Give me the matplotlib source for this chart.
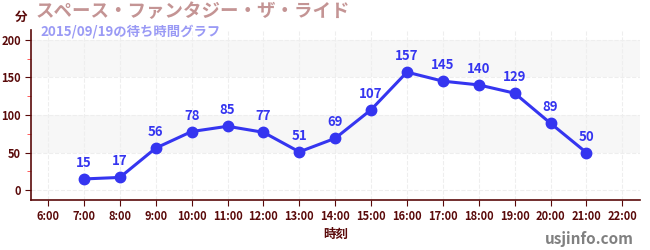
import matplotlib.pyplot as plt

plt.rcParams['font.family'] = ['Noto Sans CJK JP', 'DejaVu Sans']

hours = [7, 8, 9, 10, 11, 12, 13, 14, 15, 16, 17, 18, 19, 20, 21]
waits = [15, 17, 56, 78, 85, 77, 51, 69, 107, 157, 145, 140, 129, 89, 50]
tick_hours = list(range(6, 23))
tick_labels = [f"{h}:00" for h in tick_hours]

dark = '#5a0a0a'
blue = '#3535f0'

fig = plt.figure(figsize=(6.5, 2.5), dpi=100)
ax = fig.add_axes([0.048, 0.2, 0.937, 0.68])

# alternating background bands
for lo, hi in [(50, 100), (150, 200)]:
    ax.axhspan(lo, hi, color='#f7f7f7', zorder=0, lw=0)

ax.plot(hours, waits, color=blue, lw=2.2, marker='o', markersize=7.5, zorder=3)
for h, w in zip(hours, waits):
    ax.annotate(str(w), (h, w), xytext=(0, 6.5), textcoords='offset points',
                ha='center', va='bottom', color=blue, fontsize=9.5, fontweight='bold')

ax.set_xlim(5.53, 22.5)
ax.set_ylim(-13, 213)
ax.set_xticks(tick_hours)
ax.set_xticklabels(tick_labels)
ax.set_yticks([0, 50, 100, 150, 200])
ax.set_yticks([25, 75, 125, 175], minor=True)
ax.tick_params(axis='both', colors=dark, labelsize=8, length=4)
ax.tick_params(axis='y', which='minor', colors='#ff4040', length=3)
for lbl in ax.get_xticklabels() + ax.get_yticklabels():
    lbl.set_fontweight('bold')
    lbl.set_color(dark)

ax.grid(True, axis='x', ls='--', color='#eeeeee', lw=0.8)
ax.grid(True, axis='y', ls='--', color='#eeeeee', lw=0.8)
ax.set_axisbelow(True)

for s in ['top', 'right']:
    ax.spines[s].set_visible(False)
for s in ['left', 'bottom']:
    ax.spines[s].set_color(dark)
    ax.spines[s].set_linewidth(1.2)

ax.set_xlabel('時刻', color=dark, fontsize=9, fontweight='bold', labelpad=3)

fig.text(0.023, 0.93, '分', color=dark, fontsize=9, fontweight='bold', ha='left', va='center')
fig.text(0.054, 0.952, 'スペース・ファンタジー・ザ・ライド', color='#c49494',
         fontsize=13.3, fontweight='bold', ha='left', va='center')
fig.text(0.062, 0.875, '2015/09/19の待ち時間グラフ', color='#9a9af5',
         fontsize=9.6, fontweight='bold', ha='left', va='center')
fig.text(0.975, 0.045, 'usjinfo.com', color='#808080', fontsize=11,
         fontweight='bold', ha='right', va='center')

fig.savefig('out.png', dpi=100)
